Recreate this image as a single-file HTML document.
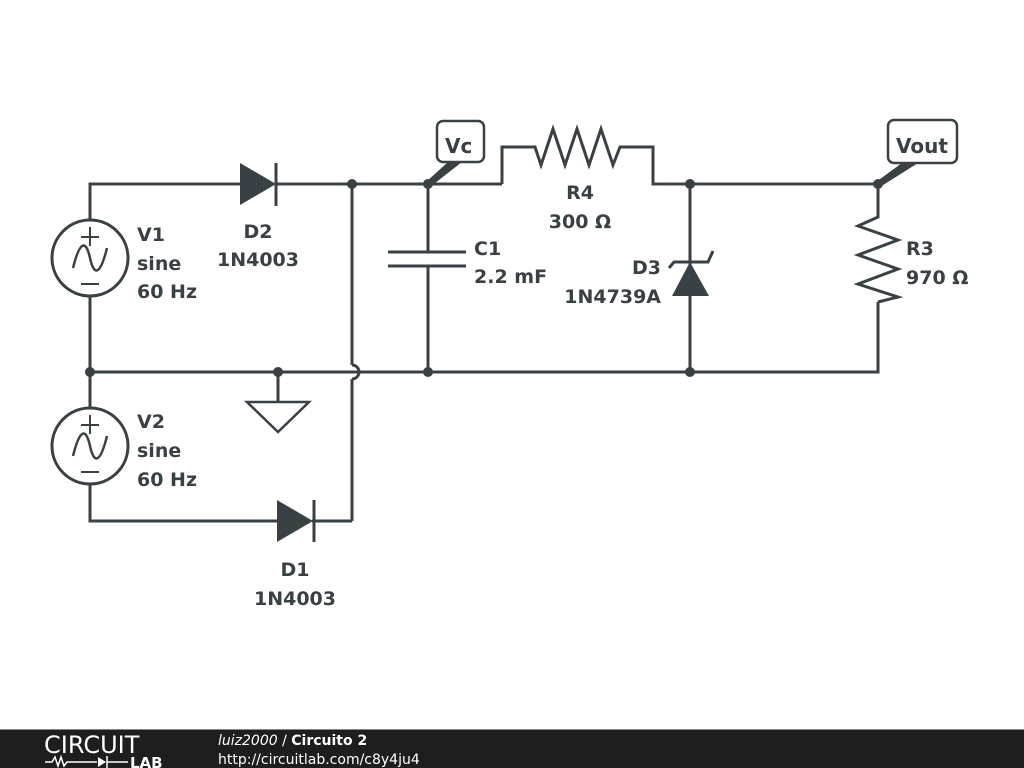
<!DOCTYPE html>
<html><head><meta charset="utf-8"><style>
html,body{margin:0;padding:0;background:#fff;width:1024px;height:768px;overflow:hidden}
svg{display:block}
text{font-family:"DejaVu Sans","Liberation Sans",sans-serif;font-weight:bold;font-size:19px;fill:#3a4145}
</style></head><body>
<svg width="1024" height="768" viewBox="0 0 1024 768">
<g fill="none" stroke="#3a4145" stroke-width="3" stroke-linejoin="miter">
<polyline points="90,220 90,184 240,184"/>
<line x1="276" y1="184" x2="502" y2="184"/>
<polyline points="502,184 502,147 535,147 541,165 553,129 565,165 577,129 589,165 601,129 613,165 620,147 653,147 653,184 878,184"/>
<circle cx="90" cy="258" r="38"/>
<line x1="90" y1="296" x2="90" y2="408"/>
<circle cx="90" cy="446" r="38"/>
<polyline points="90,484 90,521 280,521"/>
<line x1="312" y1="521" x2="352" y2="521"/>
<polyline points="352,521 352,379"/>
<path d="M352,379 A7,7 0 0 0 352,365"/>
<line x1="352" y1="365" x2="352" y2="184"/>
<polyline points="90,372 878,372 878,302"/>
<line x1="278" y1="372" x2="278" y2="402"/>
<polygon points="247,402 309,402 278,432" stroke-width="2.5"/>
<line x1="428" y1="184" x2="428" y2="252"/>
<line x1="388" y1="252" x2="466" y2="252"/>
<line x1="388" y1="266" x2="466" y2="266"/>
<line x1="428" y1="266" x2="428" y2="372"/>
<line x1="690" y1="184" x2="690" y2="372"/>
<polyline points="669,268 674,262 708,262 713,251"/>
<polyline points="878,184 878,217 858,226 898,240 858,255 898,269 858,284 898,297 878,302"/>
<path d="M73,268 C80,240 86,240 90,258 C94,276 100,276 107,248" stroke-width="2.5"/>
<path d="M73,456 C80,428 86,428 90,446 C94,464 100,464 107,436" stroke-width="2.5"/>
<line x1="90" y1="227" x2="90" y2="246" stroke-width="2"/><line x1="81" y1="237" x2="99" y2="237" stroke-width="2"/>
<line x1="81" y1="284" x2="99" y2="284" stroke-width="2"/>
<line x1="90" y1="415" x2="90" y2="434" stroke-width="2"/><line x1="81" y1="425" x2="99" y2="425" stroke-width="2"/>
<line x1="81" y1="472" x2="99" y2="472" stroke-width="2"/>
<line x1="276" y1="163" x2="276" y2="206"/>
<line x1="314" y1="500" x2="314" y2="542"/>
<rect x="437" y="121" width="47" height="41" rx="6" stroke-width="2.5"/>
<rect x="888" y="120" width="69" height="43" rx="6" stroke-width="2.5"/>
</g>
<g fill="#3a4145">
<polygon points="240,163 240,205 276,184"/>
<polygon points="277,500 277,542 313,521"/>
<polygon points="672,296 709,296 690,262"/>
<polygon points="426,182 430,187 462,162 448,162"/>
<polygon points="876,182 880,187 918,163 902,163"/>
<circle cx="352" cy="184" r="5"/><circle cx="428" cy="184" r="5"/>
<circle cx="690" cy="184" r="5"/><circle cx="878" cy="184" r="5"/>
<circle cx="90" cy="372" r="5"/><circle cx="278" cy="372" r="5"/>
<circle cx="428" cy="372" r="5"/><circle cx="690" cy="372" r="5"/>
</g>
<text x="445" y="153" style="font-size:20px">Vc</text>
<text x="896" y="153" style="font-size:20px">Vout</text>
<text x="137" y="241">V1</text><text x="137" y="270">sine</text><text x="137" y="298">60 Hz</text>
<text x="137" y="428">V2</text><text x="137" y="457">sine</text><text x="137" y="486">60 Hz</text>
<text x="258" y="238" text-anchor="middle">D2</text><text x="258" y="266" text-anchor="middle">1N4003</text>
<text x="295" y="576" text-anchor="middle">D1</text><text x="295" y="605" text-anchor="middle">1N4003</text>
<text x="474" y="255">C1</text><text x="474" y="283">2.2 mF</text>
<text x="580" y="199" text-anchor="middle">R4</text><text x="580" y="228" text-anchor="middle">300 Ω</text>
<text x="661" y="274" text-anchor="end">D3</text><text x="661" y="303" text-anchor="end">1N4739A</text>
<text x="906" y="255">R3</text><text x="906" y="284">970 Ω</text>
<rect x="0" y="729" width="1024" height="39" fill="#1e1e1e"/>
<line x1="0" y1="729.5" x2="1024" y2="729.5" stroke="#888" stroke-width="1"/>
<text x="44" y="753" style="font-weight:normal;font-size:24px;fill:#fff">CIRCUIT</text>
<polyline points="45,762 52,762 55,757 58,766 61,757 64,766 67,762 97,762" fill="none" stroke="#fff" stroke-width="1.5"/>
<polygon points="98,757 98,767 106,762" fill="#fff"/><line x1="107" y1="756" x2="107" y2="768" stroke="#fff" stroke-width="1.5"/>
<line x1="107" y1="762" x2="128" y2="762" stroke="#fff" stroke-width="1.5"/>
<text x="130" y="768" style="font-size:15px;fill:#fff">LAB</text>
<text x="218" y="745" style="font-weight:normal;font-style:italic;font-size:14px;fill:#fff">luiz2000 <tspan style="font-style:normal">/</tspan> <tspan style="font-style:normal;font-weight:bold">Circuito 2</tspan></text>
<text x="218" y="764" style="font-weight:normal;font-size:14px;fill:#fff">http://circuitlab.com/c8y4ju4</text>
</svg>
</body></html>
